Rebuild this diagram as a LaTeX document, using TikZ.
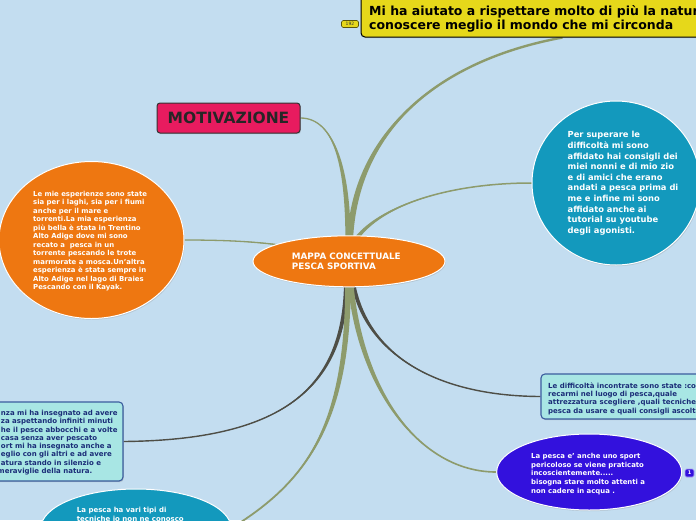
\documentclass[tikz,border=0pt]{standalone}
\usepackage{fontspec}
\setmainfont{DejaVu Sans}
\usetikzlibrary{shapes.geometric,calc,shadows}
\pgfdeclarelayer{links}
\pgfsetlayers{links,main}
\definecolor{bg}{HTML}{C3DDF0}
\definecolor{cOr}{HTML}{EE7711}
\definecolor{cTeal}{HTML}{1399BD}
\definecolor{cPur}{HTML}{3311DD}
\definecolor{cCrim}{HTML}{E81B5F}
\definecolor{cYel}{HTML}{E6D81A}
\definecolor{cCy}{HTML}{A8E6E4}
\definecolor{cBor}{HTML}{3B5C9E}
\definecolor{cNavy}{HTML}{1B2D78}
\definecolor{cOl}{HTML}{8D9B6C}
\definecolor{cDk}{HTML}{4E4E46}
\newcommand\branch[8]{%
  \fill[#1] ($#2+(-#6,-#7)$) .. controls ($#3+(-#6,-#7)$) and #4 .. #5
     .. controls #4 and ($#3+(#6,#7)$) .. ($#2+(#6,#7)$) -- cycle;
  \draw[#1,line width=#8] #2 .. controls #3 and #4 .. #5;}
\begin{document}
\begin{tikzpicture}[x=1pt,y=-1pt,
  ell/.style={ellipse, draw=white, line width=1pt, inner sep=0pt,
    drop shadow={opacity=0.25,shadow xshift=0.8pt,shadow yshift=-1.2pt}},
  box/.style={rectangle, rounded corners=4pt, inner sep=0pt,
    drop shadow={opacity=0.3,shadow xshift=0.8pt,shadow yshift=-1.2pt}},
  cybox/.style={box, draw=cBor, line width=1.1pt, fill=cCy},
  txt/.style={inner sep=0pt, align=left, anchor=north west},
  badge/.style={rectangle, rounded corners=1.5pt, inner sep=0pt, line width=0.6pt}]
\useasboundingbox (0,0) rectangle (696,520);

% shapes
\node[box, fill=cYel, draw=black, line width=1pt, minimum width=369pt, minimum height=45pt] (yel) at (545.5,14.5) {};
\node[txt, font=\bfseries\fontsize{12.5}{14.5}\selectfont, text=black] (yelT) at (369,4.8)
  {Mi ha aiutato a rispettare molto di più la natura\\conoscere meglio il mondo che mi circonda};
\node[badge, fill=cYel, draw=black!60!cYel, minimum width=17pt, minimum height=7pt,
  font=\fontsize{4.5}{5}\selectfont, text=black!80] (b192) at (350,24) {192};

\node[box, rounded corners=3pt, fill=cCrim, draw=black!80, line width=1pt, minimum width=143pt, minimum height=30pt,
  font=\bfseries\fontsize{15.5}{17}\selectfont, text=black!85] (mot) at (228.5,118) {MOTIVAZIONE};

\node[ell, fill=cOr, minimum width=185pt, minimum height=157pt] (exp) at (91.5,240) {};
\node[txt, font=\bfseries\fontsize{6.9}{8.5}\selectfont, text=white] (expT) at (33,190.8)
  {Le mie esperienze sono state\\sia per i laghi, sia per i fiumi\\anche per il mare e\\torrenti.La mia esperienza\\più bella è stata in Trentino\\Alto Adige dove mi sono\\recato a\ \ pesca in un\\torrente pescando le trote\\marmorate a mosca.Un'altra\\esperienza è stata sempre in\\Alto Adige nel lago di Braies\\Pescando con il Kayak.};

\node[ell, fill=cTeal, minimum width=168pt, minimum height=164pt] (dif) at (616,183) {};
\node[txt, font=\bfseries\fontsize{8.35}{10.6}\selectfont, text=white] (difT) at (567.5,131.3)
  {Per superare le\\difficoltà mi sono\\affidato hai consigli dei\\miei nonni e di mio zio\\e di amici che erano\\andati a pesca prima di\\me e infine mi sono\\affidato anche ai\\tutorial su youtube\\degli agonisti.};

\node[ell, fill=cOr, minimum width=192pt, minimum height=51pt] (main) at (349,261.3) {};
\node[txt, font=\bfseries\fontsize{8.8}{10}\selectfont, text=white] (mainT) at (291.7,252.6)
  {MAPPA CONCETTUALE\\PESCA SPORTIVA};

\node[cybox, minimum width=133pt, minimum height=79pt] (pat) at (56.5,441.5) {};
\node[txt, font=\bfseries\fontsize{7}{8.29}\selectfont, text=cNavy] (patT) at (0.8,410)
  {nza mi ha insegnato ad avere\\za aspettando infiniti minuti\\he il pesce abbocchi e a volte\\casa senza aver pescato\\ort mi ha insegnato anche a\\eglio con gli altri e ad avere\\atura stando in silenzio e\\\hspace*{-3.5pt}meraviglie della natura.};

\node[cybox, minimum width=189pt, minimum height=45pt] (dif2) at (635.5,396.5) {};
\node[txt, font=\bfseries\fontsize{7}{8.33}\selectfont, text=cNavy] (dif2T) at (548,382.4)
  {Le difficoltà incontrate sono state :come\\recarmi nel luogo di pesca,quale\\attrezzatura scegliere ,quali tecniche di\\pesca da usare e quali consigli ascoltare};

\node[ell, fill=cPur, minimum width=185pt, minimum height=76pt] (per) at (589.2,472) {};
\node[txt, font=\bfseries\fontsize{6.9}{8.8}\selectfont, text=white] (perT) at (531,452.8)
  {La pesca e' anche uno sport\\pericoloso se viene praticato\\incoscientemente.....\\bisogna stare molto attenti a\\non cadere in acqua .};
\node[badge, fill=cPur, draw=white!60!cPur, minimum width=9pt, minimum height=8pt,
  font=\bfseries\fontsize{5}{6}\selectfont, text=white] (b1) at (689.5,473) {1};

\node[ell, fill=cTeal, minimum width=190pt, minimum height=78pt] (tec) at (136,528) {};
\node[txt, font=\bfseries\fontsize{7}{9}\selectfont, text=white] (tecT) at (76.7,507.3)
  {La pesca ha vari tipi di\\tecniche io non ne conosco};

% connector end points
\coordinate (rY) at ($(main.north)+(1,5)$);
\coordinate (rM) at ($(main.north)+(-1,5)$);
\coordinate (rD) at ($(main.north)+(6,5)$);
\coordinate (rPL) at ($(main.south)+(-3,-5)$);
\coordinate (rPR) at ($(main.south)+(4,-5)$);
\coordinate (rTL) at ($(main.south)+(-1,-5)$);
\coordinate (rTR) at ($(main.south)+(1.5,-5)$);
\coordinate (eY) at ($(yel.south west)+(202,0)$);

\begin{pgfonlayer}{links}
  \fill[bg] (0,0) rectangle (696,520);
  \branch{cOl}{(rY)}{(355,130)}{(440,60)}{(eY)}{3}{0}{2.4pt}
  \branch{cOl}{(rM)}{(348,170)}{(335,118)}{(mot.east)}{2.6}{0}{1.3pt}
  \branch{cOl}{(rD)}{(380,205)}{(450,183)}{(dif.west)}{2.5}{0}{1.5pt}
  \branch{cOl}{(main.center)}{(300,244)}{(250,240)}{(exp.east)}{0}{0.9}{1.3pt}
  \branch{cDk}{(rPL)}{(345,390)}{(280,440)}{(pat.east)}{2}{0}{1.4pt}
  \branch{cDk}{(rPR)}{(365,350)}{(430,396)}{(dif2.west)}{2}{0}{1.4pt}
  \branch{cOl}{(rTL)}{(348,420)}{(310,480)}{(tec.east)}{2.8}{0}{1.8pt}
  \branch{cOl}{(rTR)}{(360,390)}{(420,472)}{(per.west)}{2.8}{0}{1.6pt}
\end{pgfonlayer}
\end{tikzpicture}
\end{document}
